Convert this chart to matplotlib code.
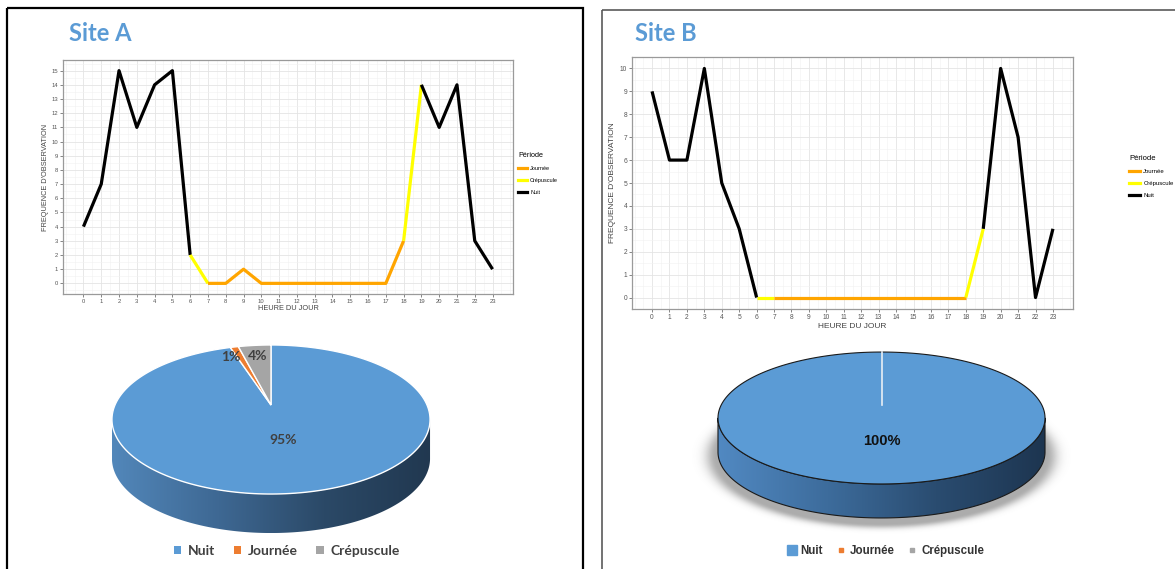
import numpy as np
import matplotlib
matplotlib.use("Agg")
import matplotlib.pyplot as plt
from matplotlib.transforms import Transform, Affine2D
from matplotlib.path import Path
from matplotlib.patches import Rectangle, Polygon, Patch
from matplotlib.lines import Line2D
from matplotlib.colors import LinearSegmentedColormap
from matplotlib.ticker import MultipleLocator

plt.rcParams["font.family"] = ["Liberation Sans", "DejaVu Sans"]

# ---------------------------------------------------------------- data
hours = list(range(24))
hour_period = (["Nuit"] * 6 + ["Crépuscule"] + ["Journée"] * 11
               + ["Crépuscule"] + ["Nuit"] * 5)
freq_site_a = [4, 7, 15, 11, 14, 15, 2, 0, 0, 1, 0, 0,
               0, 0, 0, 0, 0, 0, 3, 14, 11, 14, 3, 1]
freq_site_b = [9, 6, 6, 10, 5, 3, 0, 0, 0, 0, 0, 0,
               0, 0, 0, 0, 0, 0, 0, 3, 10, 7, 0, 3]

legend_periods = ["Journée", "Crépuscule", "Nuit"]
period_colors = {"Journée": "#FFA500", "Crépuscule": "#FFFF00", "Nuit": "#000000"}

pie_labels = ["Nuit", "Journée", "Crépuscule"]
share_site_a = [95, 1, 4]
share_site_b = [100, 0, 0]
pie_colors = ["#5B9BD5", "#ED7D31", "#A5A5A5"]

W, H = 1175, 569
fig = plt.figure(figsize=(W / 100, H / 100), dpi=100)
fig.patch.set_facecolor("white")

# full-figure canvas in pixel units (y downwards) for frames, titles and pies
canvas = fig.add_axes([0, 0, 1, 1], zorder=0)
canvas.patch.set_visible(False)


def fig_box(x0, y0, x1, y1):
    return [x0 / W, 1 - y1 / H, (x1 - x0) / W, (y1 - y0) / H]


# ---------------------------------------------------------------- line charts
def draw_profile(box, freq, ymax, tick_fs, lab_fs, leg_anchor, leg_fs, leg_space,
                 xpad, ypad, hlen=1.6):
    ax = fig.add_axes(fig_box(*box), zorder=2)
    seg_period = hour_period[:-1]
    start = 0
    for i in range(1, len(seg_period) + 1):
        if i == len(seg_period) or seg_period[i] != seg_period[start]:
            ax.plot(hours[start:i + 1], freq[start:i + 1],
                    color=period_colors[seg_period[start]], lw=2.3,
                    solid_joinstyle="round", solid_capstyle="butt", zorder=3)
            start = i
    ax.set_xlim(-0.05 * 23, 23 * 1.05)
    ax.set_ylim(-0.05 * ymax, ymax * 1.05)
    ax.set_xticks(hours)
    ax.set_yticks(range(ymax + 1))
    ax.xaxis.set_minor_locator(MultipleLocator(0.5))
    ax.yaxis.set_minor_locator(MultipleLocator(0.5))
    ax.grid(which="major", color="#E4E4E4", lw=0.6)
    ax.grid(which="minor", color="#F1F1F1", lw=0.4)
    ax.set_axisbelow(True)
    ax.tick_params(which="minor", length=0)
    ax.tick_params(which="major", length=2, width=0.5, color="#555555",
                   labelsize=tick_fs, labelcolor="#555555", pad=1.5)
    for s in ax.spines.values():
        s.set_color("#9A9A9A")
        s.set_linewidth(0.9)
    ax.set_xlabel("HEURE DU JOUR", fontsize=lab_fs, color="#444444", labelpad=xpad)
    ax.set_ylabel("FREQUENCE D'OBSERVATION", fontsize=lab_fs, color="#444444", labelpad=ypad)
    handles = [Line2D([], [], color=period_colors[p], lw=2.3) for p in legend_periods]
    ax.legend(handles, legend_periods, title="Période", loc="upper left",
              bbox_to_anchor=(leg_anchor[0] / W, 1 - leg_anchor[1] / H),
              bbox_transform=fig.transFigure, frameon=False, fontsize=leg_fs,
              title_fontsize=leg_fs + 1.2, handlelength=hlen, handletextpad=0.6,
              labelspacing=leg_space, borderpad=0, borderaxespad=0, alignment="left")
    return ax


draw_profile((63, 60, 513, 294), freq_site_a, 15, 4.2, 5.3, (518, 152), 4.0, 1.25, 1.0, 2.0)
draw_profile((632, 57, 1073, 309), freq_site_b, 10, 4.8, 6.0, (1129, 155), 4.3, 1.15,
             1.5, 2.5, hlen=1.8)


# ---------------------------------------------------------------- 3-D pies
class TiltedDisc(Transform):
    """Unit disc seen in perspective, mapped to canvas pixels."""
    input_dims = output_dims = 2

    def __init__(self, cx, cy, rx, ry, k):
        super().__init__()
        self.cx, self.cy, self.rx, self.ry, self.k = cx, cy, rx, ry, k

    def transform_non_affine(self, values):
        v = np.asarray(values, float).reshape(-1, 2)
        w = 1 + self.k * v[:, 1]
        return np.column_stack([self.cx + self.rx * v[:, 0] / w,
                                self.cy - self.ry * v[:, 1] / w])

    def transform_path_non_affine(self, path):
        closed = path.codes is not None and Path.CLOSEPOLY in path.codes
        polys = path.to_polygons(transform=Affine2D().scale(2000), closed_only=closed)
        parts = [Path(self.transform_non_affine(p / 2000.0)) for p in polys if len(p)]
        if not parts:
            return path
        return Path.make_compound_path(*parts)


def draw_side(tilt, depth, colors, edge=None):
    t = np.linspace(0, 2 * np.pi, 1441)
    rim = tilt.transform_non_affine(np.column_stack([np.cos(t), np.sin(t)]))
    il, ir = np.argmin(rim[:, 0]), np.argmax(rim[:, 0])
    # front arc runs from the left extreme to the right extreme through the bottom
    idx = np.arange(il, ir + 1) if il < ir else np.r_[il:len(t), 0:ir + 1]
    front = rim[idx]
    poly_xy = np.vstack([front, (front + [0, depth])[::-1]])
    poly = Polygon(poly_xy, closed=True, facecolor="none",
                   edgecolor=edge if edge else "none", lw=0.8, zorder=1.6)
    canvas.add_patch(poly)
    cmap = LinearSegmentedColormap.from_list("side", colors)
    x0, x1 = poly_xy[:, 0].min(), poly_xy[:, 0].max()
    y0, y1 = poly_xy[:, 1].min(), poly_xy[:, 1].max()
    img = canvas.imshow(np.linspace(0, 1, 256)[None, :], cmap=cmap,
                        extent=(x0, x1, y1, y0), aspect="auto", zorder=1.5,
                        interpolation="bilinear")
    clip = Polygon(poly_xy, closed=True, transform=canvas.transData)
    img.set_clip_path(clip)


def pct_text(p):
    return f"{p:.0f}%" if p > 0.5 else ""


# Site A pie
tilt_a = TiltedDisc(271, 405, 156, 71.7, 0.1946)
draw_side(tilt_a, 39, ["#5287BA", "#3E6893", "#2B4967", "#213850"])
wedges_a, _, auto_a = canvas.pie(
    share_site_a, colors=pie_colors, startangle=90, counterclock=False,
    autopct=pct_text, pctdistance=0.45,
    wedgeprops=dict(edgecolor="white", linewidth=1.0),
    textprops=dict(family="Lato", fontweight="bold", fontsize=10, color="#404040"))
for w in wedges_a:
    w.set_transform(tilt_a + canvas.transData)
    w.set_zorder(2)
for txt, share in zip(auto_a, share_site_a):
    if share < 10:
        # thin slices: label near the rim, smallest one pushed outward to the left
        x, y = txt.get_position()
        txt.set_position((x * 0.8 / 0.45, y * 0.8 / 0.45))
        if share == min(share_site_a):
            txt.set_horizontalalignment("right")
    txt.set_transform(tilt_a + canvas.transData)
    txt.set_zorder(3)

# Site B pie: soft shadow under the disc
gx = np.arange(690, 1075)
gy = np.arange(400, 545)
GX, GY = np.meshgrid(gx, gy)
r = np.sqrt(((GX - 881.5) / 165.0) ** 2 + ((GY - 456.0) / 68.0) ** 2)
alpha = np.where(r <= 1, 0.5, 0.5 * np.exp(-((r - 1) / 0.07) ** 2))
shadow = np.zeros(GX.shape + (4,))
shadow[..., :3] = 0.35
shadow[..., 3] = alpha
canvas.imshow(shadow, extent=(gx[0], gx[-1], gy[-1], gy[0]), aspect="auto",
              zorder=1.2, interpolation="bilinear")

tilt_b = TiltedDisc(881.5, 405, 160.3, 63.4, 0.197)
draw_side(tilt_b, 34, ["#5189C2", "#3D6C9C", "#2A4C70", "#1D3550"], edge="#1A1A1A")
wedges_b, _, auto_b = canvas.pie(
    share_site_b, colors=pie_colors, startangle=90, counterclock=False,
    autopct=pct_text, pctdistance=0.51,
    wedgeprops=dict(edgecolor="#1A1A1A", linewidth=0.8),
    textprops=dict(family="Liberation Sans", fontweight="bold", fontsize=10.5,
                   color="#111111"))
for w, share in zip(wedges_b, share_site_b):
    w.set_transform(tilt_b + canvas.transData)
    w.set_zorder(2)
    if share == 0:
        w.set_visible(False)
for txt in auto_b:
    txt.set_transform(tilt_b + canvas.transData)
    txt.set_zorder(3)
canvas.plot([0, 0], [0, 1], color="#E8EEF5", lw=1.2, zorder=2.5,
            transform=tilt_b + canvas.transData)

# ---------------------------------------------------------------- pie legends
leg_a = fig.legend([Patch(facecolor=c, edgecolor="none") for c in pie_colors], pie_labels,
                   loc="center", bbox_to_anchor=(287 / W, 1 - 551 / H), ncol=3,
                   frameon=False, handlelength=0.55, handleheight=0.55, handletextpad=0.5,
                   columnspacing=1.3,
                   prop=dict(family="Lato", weight="bold", size=10))
for t in leg_a.get_texts():
    t.set_color("#404040")

b_handles = [Line2D([], [], ls="none", marker="s", markersize=ms, color=c)
             for c, ms in zip(pie_colors, [7.5, 2.6, 2.6])]
leg_b = fig.legend(b_handles, pie_labels, loc="center",
                   bbox_to_anchor=(886 / W, 1 - 551 / H), ncol=3, frameon=False,
                   handlelength=0.7, handletextpad=0.4, columnspacing=1.2,
                   prop=dict(family="Liberation Sans", weight="bold", size=8.3))
for t in leg_b.get_texts():
    t.set_color("#333333")

# ---------------------------------------------------------------- frames and titles
canvas.add_patch(Rectangle((7, 8), 576, 600, fill=False, edgecolor="black",
                           lw=1.6, clip_on=False, zorder=5))
canvas.add_patch(Rectangle((602, 10), 700, 600, fill=False, edgecolor="#5A5A5A",
                           lw=1.2, clip_on=False, zorder=5))
canvas.text(69, 33, "Site A", ha="left", va="center", fontsize=17,
            fontweight="bold", color="#5B9BD5", family="Lato")
canvas.text(635, 33, "Site B", ha="left", va="center", fontsize=17,
            fontweight="bold", color="#5B9BD5", family="Lato")

canvas.set_xlim(0, W)
canvas.set_ylim(H, 0)
canvas.set_aspect("auto")
canvas.axis("off")

fig.savefig("out.png", dpi=100, facecolor="white")
